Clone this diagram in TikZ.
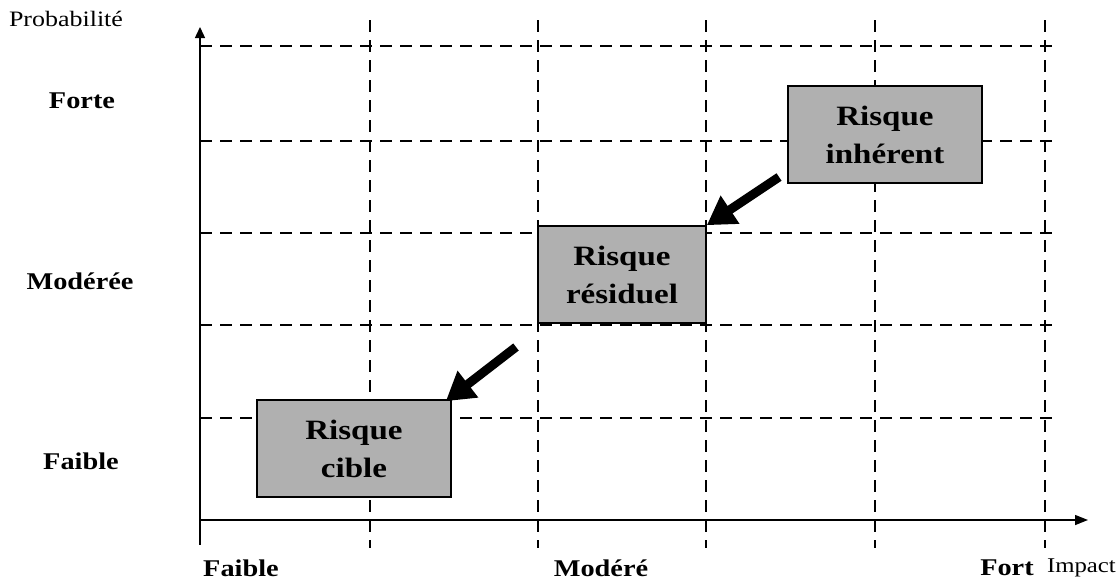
\documentclass[tikz,border=0pt]{standalone}
\usepackage{fontspec}
\setmainfont[FakeStretch=1.18]{Liberation Serif}
\usetikzlibrary{arrows.meta}
\begin{document}
\begin{tikzpicture}[x=1pt,y=-1pt,
  grid/.style={line width=2.8pt,dash pattern=on 12pt off 8pt},
  axis/.style={line width=1.4pt},
  riskbox/.style={draw=black,line width=1.6pt,fill=gray!62,minimum width=194pt,minimum height=97pt,
    align=center,font=\bfseries\fontsize{28}{38}\selectfont,inner sep=0pt},
  bigarrow/.style={line width=9pt,-{Triangle[length=28pt,width=32pt]}},
  lbl/.style={font=\bfseries\fontsize{24}{28}\selectfont,inner sep=0pt},
  plain/.style={font=\fontsize{22}{26}\selectfont,inner sep=0pt},
  plainsm/.style={font=\fontsize{21}{25}\selectfont,inner sep=0pt}]
\useasboundingbox (0,0) rectangle (1117,582);

% dashed grid
\foreach \y in {46,141,233,325,418}
  \draw[grid] (200,\y) -- (1058,\y);
\foreach \x in {370,538,706,875,1045}
  \draw[grid] (\x,20) -- (\x,548);

% axes
\draw[axis,-{Triangle[length=11pt,width=10pt]}] (200,520) -- (200,27);
\draw[axis,-{Triangle[length=13pt,width=10pt]}] (200,520) -- (1088,520);
\draw[axis] (200,520) -- (200,545);

% risk boxes
\node[riskbox] (inh) at (885,134.5) {Risque\\inhérent};
\node[riskbox,minimum width=168pt] (res) at (622,274.5) {Risque\\résiduel};
\node[riskbox] (cib) at (354,448.5) {Risque\\cible};

% arrows between the levels
\coordinate (t1) at (779,177);
\coordinate (t2) at (516,347);
\draw[bigarrow] (t1) -- (res.north east);
\draw[bigarrow] (t2) -- ([xshift=-6pt,yshift=-2pt]cib.north east);

% axis labels
\node[plain] (prob) at (66,19) {Probabilité};
\node[lbl] (pf) at (82,101) {Forte};
\node[lbl] (pm) at (80,281) {Modérée};
\node[lbl] (pl) at (81,461) {Faible};
\node[lbl] (il) at (241,568) {Faible};
\node[lbl] (im) at (601,568) {Modéré};
\node[lbl] (ih) at (1007,568) {Fort};
\node[plainsm,anchor=east] (imp) at (1116,568) {Impact};
\end{tikzpicture}
\end{document}
